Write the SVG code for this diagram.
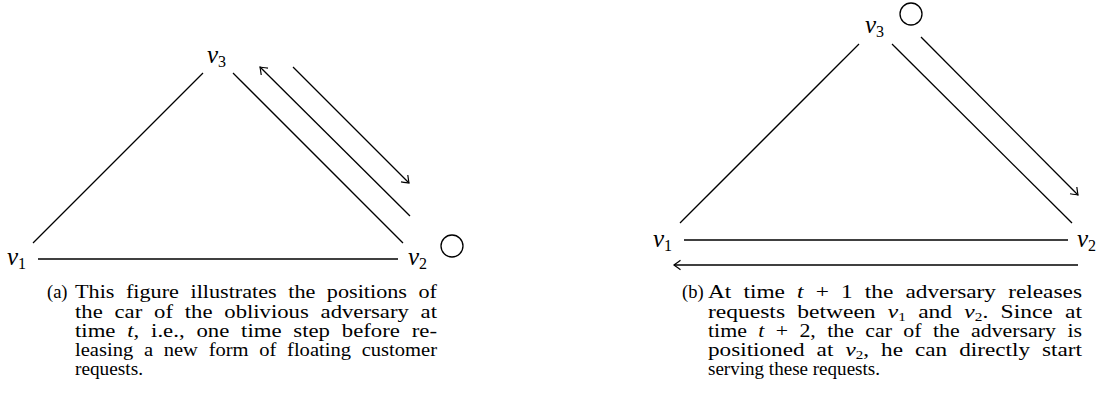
<svg xmlns="http://www.w3.org/2000/svg" width="1107" height="415" viewBox="0 0 1107 415">
<style>
.e{stroke:#000;stroke-width:1.3;fill:none}
.a{stroke:#000;stroke-width:1.3;fill:none;marker-end:url(#ah)}
.lbl{font-family:"Liberation Serif","Times New Roman",serif;font-size:25px;font-style:italic;fill:#000}
.sub{font-size:16px;font-style:normal}
.cap{font-family:"Liberation Serif","Times New Roman",serif;font-size:18.5px;fill:#000}
.j{word-spacing:5px}
.it{font-style:italic}
.car{stroke:#000;stroke-width:1.3;fill:none}
</style>
<defs>
<marker id="ah" markerWidth="12" markerHeight="12" refX="0" refY="0" viewBox="-8 -6 10 12" orient="auto" markerUnits="userSpaceOnUse">
<path d="M-6.5,-4.8 Q-1.5,-1 0,0 Q-1.5,1 -6.5,4.8" stroke="#000" stroke-width="1.2" fill="none"/>
</marker>
</defs>
<g id="panel-a">
<g id="a-v1"><text class="lbl" x="7" y="265">v<tspan class="sub" dy="4">1</tspan></text></g>
<g id="a-v2"><text class="lbl" x="408" y="265">v<tspan class="sub" dy="4">2</tspan></text></g>
<g id="a-v3"><text class="lbl" x="207" y="63">v<tspan class="sub" dy="4">3</tspan></text></g>
<g id="a-car"><circle class="car" cx="452" cy="246" r="11"/></g>
<g id="a-connectors">
<line class="e" x1="33" y1="243" x2="203" y2="73"/>
<line class="e" x1="233" y1="73" x2="403" y2="243"/>
<line class="e" x1="38" y1="259" x2="398" y2="259"/>
<line class="a" x1="410" y1="216" x2="260" y2="67"/>
<line class="a" x1="293" y1="67" x2="409" y2="183"/>
</g>
</g>
<g id="panel-b">
<g id="b-v1"><text class="lbl" x="653" y="247">v<tspan class="sub" dy="4">1</tspan></text></g>
<g id="b-v2"><text class="lbl" x="1077" y="247">v<tspan class="sub" dy="4">2</tspan></text></g>
<g id="b-v3"><text class="lbl" x="865" y="33">v<tspan class="sub" dy="4">3</tspan></text></g>
<g id="b-car"><circle class="car" cx="911" cy="14" r="11"/></g>
<g id="b-connectors">
<line class="e" x1="680" y1="223" x2="859" y2="44"/>
<line class="e" x1="892" y1="44" x2="1072" y2="223"/>
<line class="e" x1="684" y1="240" x2="1068" y2="240"/>
<line class="a" x1="921" y1="37" x2="1078" y2="195"/>
<line class="a" x1="1078" y1="265" x2="674" y2="265"/>
</g>
</g>
<g id="caption-a" class="cap">
<text x="47" y="298">(a)</text>
<text class="j" x="75" y="298" textLength="362" lengthAdjust="spacingAndGlyphs">This figure illustrates the positions of</text>
<text class="j" x="75" y="318" textLength="362" lengthAdjust="spacingAndGlyphs">the car of the oblivious adversary at</text>
<text class="j" x="75" y="337" textLength="362" lengthAdjust="spacingAndGlyphs">time <tspan class="it">t</tspan>, i.e., one time step before re-</text>
<text class="j" x="75" y="356" textLength="362" lengthAdjust="spacingAndGlyphs">leasing a new form of floating customer</text>
<text x="75" y="375" textLength="68" lengthAdjust="spacingAndGlyphs">requests.</text>
</g>
<g id="caption-b" class="cap">
<text x="682" y="298">(b)</text>
<text class="j" x="708" y="298" textLength="374" lengthAdjust="spacingAndGlyphs">At time <tspan class="it">t</tspan> + 1 the adversary releases</text>
<text class="j" x="708" y="318" textLength="374" lengthAdjust="spacingAndGlyphs">requests between <tspan class="it">v</tspan><tspan font-size="12" baseline-shift="-3">1</tspan> and <tspan class="it">v</tspan><tspan font-size="12" baseline-shift="-3">2</tspan>. Since at</text>
<text class="j" x="708" y="337" textLength="374" lengthAdjust="spacingAndGlyphs">time <tspan class="it">t</tspan> + 2, the car of the adversary is</text>
<text class="j" x="708" y="356" textLength="374" lengthAdjust="spacingAndGlyphs">positioned at <tspan class="it">v</tspan><tspan font-size="12" baseline-shift="-3">2</tspan>, he can directly start</text>
<text x="708" y="375" textLength="172" lengthAdjust="spacingAndGlyphs">serving these requests.</text>
</g>
</svg>
